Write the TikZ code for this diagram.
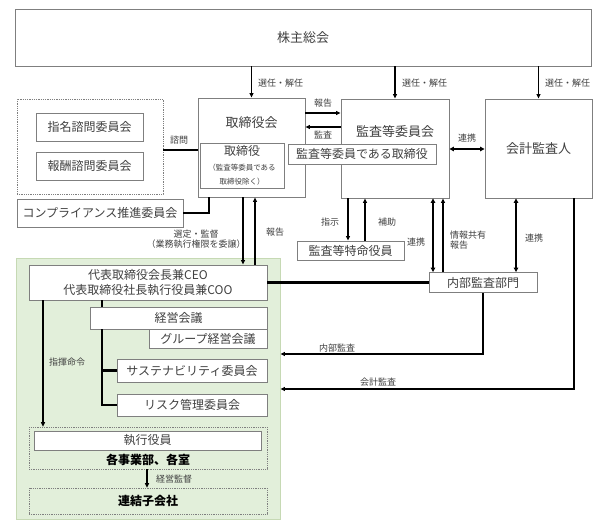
\documentclass[tikz,border=0pt]{standalone}
\usepackage{fontspec}
\setmainfont{Noto Sans CJK JP}
\usetikzlibrary{arrows.meta,calc}
\definecolor{txt}{HTML}{404040}
\definecolor{bdr}{HTML}{7F7F7F}
\definecolor{grn}{HTML}{E2EFDA}
\definecolor{grnb}{HTML}{C6D9B4}
\begin{document}
\begin{tikzpicture}[x=1pt,y=-1pt,
  box/.style={draw=bdr, line width=0.9pt, fill=white, inner sep=0pt, text=txt, font=\fontsize{12}{14}\selectfont},
  dotbox/.style={draw=bdr, line width=0.7pt, dash pattern=on 1pt off 0.8pt, inner sep=0pt},
  lbl/.style={text=txt, font=\fontsize{9}{10.5}\selectfont, inner sep=0pt},
  big/.style={text=txt, font=\fontsize{13}{15}\selectfont, inner sep=0pt},
  arr/.style={draw=black, line width=1.1pt, -{Triangle[length=4.5pt,width=4pt]}},
  darr/.style={draw=black, line width=1.6pt, {Triangle[length=4.5pt,width=4.5pt]}-{Triangle[length=4.5pt,width=4.5pt]}},
  thk/.style={draw=black, line width=2.2pt}]
\useasboundingbox[fill=white] (0,0) rectangle (607,524);

% green executive area
\node[draw=grnb, fill=grn, line width=0.9pt, minimum width=264pt, minimum height=261pt] (green) at (148,388.5) {};

% top
\node[box, minimum width=576pt, minimum height=57pt, font=\fontsize{13}{15}\selectfont] (sh) at (303,37.5) {株主総会};

% advisory
\node[dotbox, fill=white, minimum width=146pt, minimum height=95pt] (adv) at (90,146.5) {};
\node[box, minimum width=107pt, minimum height=28pt] (nom) at (89.5,127) {指名諮問委員会};
\node[box, minimum width=107pt, minimum height=28pt] (rem) at (89.5,166) {報酬諮問委員会};
\node[box, minimum width=166pt, minimum height=28pt] (comp) at (100,213) {コンプライアンス推進委員会};

% board
\node[box, minimum width=107pt, minimum height=99pt] (bod) at (251.5,147.5) {};
\node[big] (bodt) at (251.5,123) {取締役会};
\node[box, minimum width=84pt, minimum height=45pt, align=center] (dir) at (242,165.5)
  {{\fontsize{12}{12}\selectfont 取締役}\\[1pt]{\fontsize{7.5}{9}\selectfont （監査等委員である}\\{\fontsize{7.5}{9}\selectfont 取締役除く）}};

% audit committee
\node[box, minimum width=108pt, minimum height=99pt] (ac) at (395,148.5) {};
\node[big] (act) at (395,132) {監査等委員会};
\node[box, minimum width=148pt, minimum height=20pt] (acd) at (362,154) {監査等委員である取締役};

% accounting auditor
\node[box, minimum width=107pt, minimum height=99pt, font=\fontsize{13}{15}\selectfont] (auditor) at (538.5,148.5) {会計監査人};

% special officer, internal audit
\node[box, minimum width=107pt, minimum height=19pt] (spec) at (350.5,250.5) {監査等特命役員};
\node[box, minimum width=108pt, minimum height=20pt] (ia) at (483,282.5) {内部監査部門};

% executive side
\node[box, minimum width=238pt, minimum height=35pt, align=center, font=\fontsize{12}{14.5}\selectfont] (ceo) at (148,282.5) {代表取締役会長兼CEO\\代表取締役社長執行役員兼COO};
\node[box, minimum width=177pt, minimum height=22pt] (mgmt) at (178.5,318) {経営会議};
\node[box, minimum width=118pt, minimum height=19pt] (grp) at (208,338.5) {グループ経営会議};
\node[box, minimum width=150pt, minimum height=23pt] (sus) at (192,370.5) {サステナビリティ委員会};
\node[box, minimum width=150pt, minimum height=22pt] (risk) at (192,405) {リスク管理委員会};
\node[dotbox, minimum width=238pt, minimum height=42pt] (exec) at (148,448) {};
\node[box, minimum width=227pt, minimum height=19pt] (eo) at (147.5,440.5) {執行役員};
\node[text=black, inner sep=0pt, font=\fontsize{12}{14}\selectfont\bfseries] (dept) at (148,459.5) {各事業部、各室};
\node[dotbox, minimum width=238pt, minimum height=26pt, font=\fontsize{12}{14}\selectfont\bfseries] (sub) at (148,501) {連結子会社};

% helper coordinates
\coordinate (h113) at (0,113);
\coordinate (h127) at (0,127);
\coordinate (h149) at (0,149);
\coordinate (h150) at (0,150);
\coordinate (h354) at (0,354);
\coordinate (h389) at (0,389);
\coordinate (v43) at (43,0);
\coordinate (v102) at (102,0);
\coordinate (v147) at (147,0);
\coordinate (v209) at (209,0);
\coordinate (v243) at (243,0);
\coordinate (v255) at (255,0);
\coordinate (v348) at (348,0);
\coordinate (v365) at (365,0);
\coordinate (v433) at (433,0);
\coordinate (v443) at (443,0);
\coordinate (v516) at (516,0);
\coordinate (v574) at (574,0);

% election arrows
\draw[arr] (bod.north |- sh.south) -- (bod.north);
\draw[arr] (ac.north |- sh.south) -- (ac.north);
\draw[arr] (auditor.north |- sh.south) -- (auditor.north);
\node[lbl, anchor=west] at (258,83) {選任・解任};
\node[lbl, anchor=west] at (402,83) {選任・解任};
\node[lbl, anchor=west] at (545,83) {選任・解任};

% board <-> audit committee
\draw[arr] (bod.east |- h113) -- (ac.west |- h113);
\draw[arr] (ac.west |- h127) -- (bod.east |- h127);
\node[lbl] at (323,103) {報告};
\node[lbl] at (323,135) {監査};

% advisory
\draw[thk] (adv.east |- h150) -- (bod.west |- h150);
\node[lbl] at (179,140) {諮問};
\draw[thk] (comp.east) -| (bod.south -| v209);

% board <-> CEO
\draw[arr] (bod.south -| v243) -- (ceo.north -| v243);
\draw[arr] (ceo.north -| v255) -- (bod.south -| v255);
\node[lbl, align=center] at (196,239) {選定・監督\\（業務執行権限を委譲）};
\node[lbl] at (275,232) {報告};

% audit committee <-> auditor
\draw[darr] (ac.east |- h149) -- (auditor.west |- h149);
\node[lbl] at (467,138) {連携};

% audit committee <-> special officer
\draw[arr] (ac.south -| v348) -- (spec.north -| v348);
\draw[arr] (spec.north -| v365) -- (ac.south -| v365);
\node[lbl] at (330,222) {指示};
\node[lbl] at (387,222) {補助};

% audit committee <-> internal audit
\draw[darr] (ac.south -| v433) -- (ia.north -| v433);
\draw[arr] (ia.north -| v443) -- (ac.south -| v443);
\node[lbl] at (416,242) {連携};
\node[lbl, anchor=west, align=left] at (450,240) {情報共有\\報告};

% auditor <-> internal audit
\draw[darr] (auditor.south -| v516) -- (ia.north -| v516);
\node[lbl] at (534,238) {連携};

% CEO -- internal audit
\draw[thk] (ceo.east) -- (ia.west);

% audits into executive area
\draw[arr] (ia.south) |- (green.east |- h354);
\node[lbl] at (337,348) {内部監査};
\draw[arr] (auditor.south -| v574) |- (green.east |- h389);
\node[lbl] at (378,382) {会計監査};

% CEO tree
\draw[thk] (ceo.south -| v102) -- (mgmt.north -| v102);
\draw[thk] (mgmt.south -| v102) |- (risk.west);
\draw[thk] (v102 |- sus.west) -- (sus.west);

% command
\draw[arr] (ceo.south -| v43) -- (exec.north -| v43);
\node[lbl] at (67,362) {指揮命令};
\draw[arr] (exec.south -| v147) -- (sub.north -| v147);
\node[lbl, anchor=west] at (156,479) {経営監督};
\end{tikzpicture}
\end{document}
